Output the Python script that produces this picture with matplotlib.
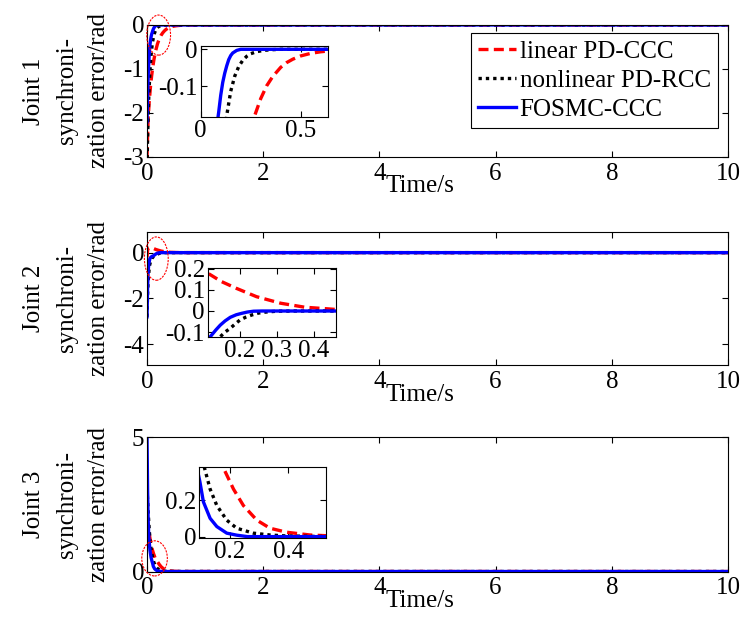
import matplotlib
matplotlib.use("Agg")
import matplotlib.pyplot as plt
from matplotlib.patches import Ellipse
from matplotlib.ticker import FuncFormatter

plt.rcParams['font.family'] = ['Liberation Serif', 'DejaVu Serif']
plt.rcParams['axes.unicode_minus'] = False

# ---- data ----
legend_labels = ["linear PD-CCC", "nonlinear PD-RCC", "FOSMC-CCC"]
ylabels = ["Joint 1\nsynchroni-\nzation error/rad",
           "Joint 2\nsynchroni-\nzation error/rad",
           "Joint 3\nsynchroni-\nzation error/rad"]
time_ticks = [0, 2, 4, 6, 8, 10]

# Joint 1
t1_red = [0, 0.01, 0.02, 0.04, 0.06, 0.08, 0.1, 0.12, 0.15, 0.18, 0.21, 0.24, 0.27, 0.3,
          0.33, 0.36, 0.4, 0.43, 0.46, 0.5, 0.55, 0.6, 0.65, 0.7, 10]
e1_red = [-3.0, -2.5, -2.1, -1.7, -1.4, -1.15, -0.95, -0.78, -0.58, -0.43, -0.32, -0.24, -0.18, -0.134,
          -0.099, -0.074, -0.049, -0.036, -0.027, -0.018, -0.011, -0.0067, -0.004, -0.0025, 0]
t1_blk = [0, 0.01, 0.02, 0.03, 0.05, 0.07, 0.09, 0.11, 0.13, 0.15, 0.17, 0.19, 0.21, 0.23,
          0.25, 0.28, 0.32, 0.36, 0.4, 10]
e1_blk = [-3.2, -2.56, -2.05, -1.64, -1.05, -0.68, -0.43, -0.28, -0.18, -0.114, -0.073, -0.047, -0.03, -0.019,
          -0.012, -0.0064, -0.0026, -0.001, 0, 0]
t1_blu = [0, 0.01, 0.02, 0.03, 0.04, 0.05, 0.06, 0.07, 0.08, 0.09, 0.1, 0.11, 0.12, 0.13,
          0.14, 0.15, 0.16, 0.18, 0.2, 10]
e1_blu = [-2.2, -1.6, -1.15, -0.85, -0.62, -0.46, -0.35, -0.27, -0.21, -0.17, -0.125, -0.09, -0.065, -0.045,
          -0.028, -0.017, -0.01, -0.003, 0, 0]

# Joint 2
t2_red = [0, 0.01, 0.02, 0.04, 0.07, 0.09, 0.113, 0.15, 0.19, 0.245, 0.31, 0.375, 0.455, 0.55, 0.7, 10]
e2_red = [-0.2, 0.1, 0.2, 0.22, 0.21, 0.195, 0.18, 0.14, 0.108, 0.068, 0.037, 0.018, 0.008, 0.003, 0.001, 0]
t2_blk = [0, 0.01, 0.02, 0.04, 0.06, 0.08, 0.1, 0.12, 0.135, 0.147, 0.16, 0.174, 0.187, 0.2,
          0.215, 0.232, 0.25, 0.27, 0.3, 0.35, 10]
e2_blk = [-2.8, -1.8, -1.2, -0.6, -0.38, -0.26, -0.2, -0.16, -0.14, -0.122, -0.1, -0.082, -0.062, -0.043,
          -0.03, -0.019, -0.01, -0.005, -0.001, 0, 0]
t2_blu = [0, 0.01, 0.02, 0.03, 0.05, 0.07, 0.09, 0.105, 0.12, 0.135, 0.147, 0.16, 0.174, 0.19,
          0.205, 0.22, 0.237, 0.26, 10]
e2_blu = [-2.8, -1.5, -0.8, -0.5, -0.25, -0.19, -0.16, -0.14, -0.122, -0.09, -0.067, -0.047, -0.03, -0.018,
          -0.011, -0.005, -0.001, 0, 0]

# Joint 3
t3_red = [0, 0.02, 0.05, 0.08, 0.11, 0.14, 0.178, 0.212, 0.246, 0.292, 0.337, 0.394, 0.474, 0.53, 0.7, 10]
e3_red = [2.0, 1.65, 1.25, 0.9, 0.68, 0.5, 0.374, 0.26, 0.17, 0.09, 0.046, 0.024, 0.009, 0.005, 0.001, 0]
t3_blk = [0, 0.02, 0.04, 0.06, 0.08, 0.1, 0.113, 0.132, 0.155, 0.189, 0.223, 0.28, 0.337, 0.39, 0.5, 10]
e3_blk = [3.1, 2.2, 1.5, 1.0, 0.7, 0.48, 0.374, 0.26, 0.17, 0.09, 0.046, 0.019, 0.009, 0.004, 0.001, 0]
t3_blu = [0, 0.01, 0.02, 0.03, 0.05, 0.07, 0.085, 0.097, 0.109, 0.132, 0.155, 0.189, 0.223, 0.26, 10]
e3_blu = [5.0, 3.0, 1.9, 1.3, 0.8, 0.52, 0.39, 0.3, 0.19, 0.1, 0.055, 0.019, 0.008, 0, 0]

joints = [
    [(t1_red, e1_red), (t1_blk, e1_blk), (t1_blu, e1_blu)],
    [(t2_red, e2_red), (t2_blk, e2_blk), (t2_blu, e2_blu)],
    [(t3_red, e3_red), (t3_blk, e3_blk), (t3_blu, e3_blu)],
]
main_ylims = [(-3, 0), (-4.9, 0.9), (0, 5)]
main_yticks = [[-3, -2, -1, 0], [-4, -2, 0], [0, 5]]

inset_xlims = [(0, 0.635), (0.113, 0.459), (0.094, 0.528)]
inset_ylims = [(-0.184, 0.0098), (-0.125, 0.203), (-0.009, 0.379)]
inset_xticks = [[0, 0.5], [0.2, 0.3, 0.4], [0.2, 0.4]]
inset_yticks = [[-0.1, 0], [-0.1, 0, 0.1, 0.2], [0, 0.2]]

# red circles marking the zoomed region (center t, center e, width, height)
circles = [(0.2, -0.23, 0.41, 0.91), (0.16, -0.26, 0.41, 1.89), (0.13, 0.49, 0.44, 1.31)]

colors = ["#ff0000", "black", "#0000ff"]
styles = [(0, (3, 1.6)), (0, (1, 1.2)), "-"]

main_pos = [[0.1976, 0.7516, 0.7809, 0.2089],
            [0.1976, 0.4225, 0.7809, 0.2104],
            [0.1976, 0.0957, 0.7809, 0.2123]]
inset_pos = [[0.2698, 0.8149, 0.1707, 0.1128],
             [0.2792, 0.4663, 0.1720, 0.1092],
             [0.2675, 0.1483, 0.1703, 0.1123]]

fmt = FuncFormatter(lambda v, p: "%g" % v)


def style_axes(ax, size, xpad):
    ax.tick_params(direction="in", top=True, right=True, length=4, width=0.8,
                   labelsize=size, pad=2)
    ax.tick_params(axis="x", pad=xpad)
    for s in ax.spines.values():
        s.set_linewidth(0.8)
    ax.xaxis.set_major_formatter(fmt)
    ax.yaxis.set_major_formatter(fmt)


def draw_lines(ax, curves):
    handles = []
    for (t, e), c, ls in zip(curves, colors, styles):
        h, = ax.plot(t, e, color=c, linestyle=ls, linewidth=2.4)
        handles.append(h)
    return handles


fig = plt.figure(figsize=(7.44, 6.32), dpi=100)

for i in range(3):
    ax = fig.add_axes(main_pos[i])
    handles = draw_lines(ax, joints[i])
    ax.set_xlim(0, 10)
    ax.set_ylim(*main_ylims[i])
    ax.set_xticks(time_ticks)
    ax.set_yticks(main_yticks[i])
    style_axes(ax, 18, 4)
    ax.set_xlabel("Time/s", fontsize=18)
    ax.xaxis.set_label_coords(0.47, -0.14)
    ax.set_ylabel(ylabels[i], fontsize=18, linespacing=1.6)
    ax.yaxis.set_label_coords(-0.064, 0.5)

    cx, cy, w, h = circles[i]
    ax.add_patch(Ellipse((cx, cy), w, h, fill=False, edgecolor="red", linewidth=0.8,
                         linestyle=(0, (2, 1)), clip_on=False, zorder=5))

    if i == 0:
        leg = ax.legend(handles, legend_labels, loc="upper right", bbox_to_anchor=(0.983, 0.939),
                        borderaxespad=0, fancybox=False, edgecolor="black", framealpha=1,
                        fontsize=18, handlelength=1.5, handletextpad=0.15, labelspacing=0.25,
                        borderpad=0.3)
        leg.get_frame().set_linewidth(0.8)

    ins = fig.add_axes(inset_pos[i])
    draw_lines(ins, joints[i])
    ins.set_xlim(*inset_xlims[i])
    ins.set_ylim(*inset_ylims[i])
    ins.set_xticks(inset_xticks[i])
    ins.set_yticks(inset_yticks[i])
    style_axes(ins, 18, 2)

fig.savefig("out.png", dpi=100)
